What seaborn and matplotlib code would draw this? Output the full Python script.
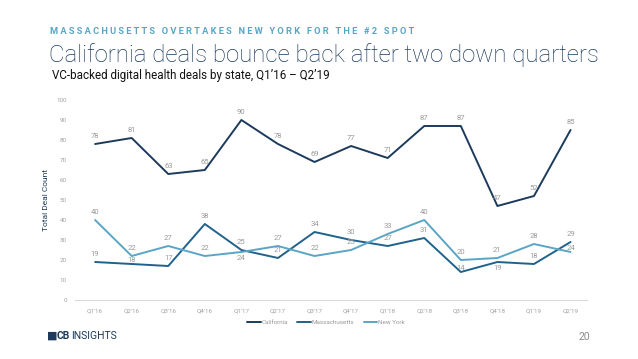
import matplotlib
matplotlib.use("Agg")
import matplotlib.pyplot as plt
import pandas as pd
import seaborn as sns

quarters = ["Q1'16", "Q2'16", "Q3'16", "Q4'16", "Q1'17", "Q2'17", "Q3'17",
            "Q4'17", "Q1'18", "Q2'18", "Q3'18", "Q4'18", "Q1'19", "Q2'19"]
california = [78, 81, 63, 65, 90, 78, 69, 77, 71, 87, 87, 47, 52, 85]
massachusetts = [19, 18, 17, 38, 25, 21, 34, 30, 27, 31, 14, 19, 18, 29]
new_york = [40, 22, 27, 22, 24, 27, 22, 25, 33, 40, 20, 21, 28, 24]

states = {"California": california, "Massachusetts": massachusetts, "New York": new_york}
palette = {"California": "#1b3a5c", "Massachusetts": "#1f628c", "New York": "#5aa5c6"}
# label offsets (points) that differ from the default "just above"
label_dy = {("Massachusetts", 1): 3, ("Massachusetts", 10): 3, ("New York", 13): 3,
            ("New York", 4): -4, ("Massachusetts", 11): -4}

rows = []
for name, vals in states.items():
    for i, v in enumerate(vals):
        rows.append({"quarter": quarters[i], "idx": i, "state": name, "deals": v})
df = pd.DataFrame(rows)

sns.set_theme(style="white")
plt.rcParams["font.family"] = ["Roboto", "DejaVu Sans"]

fig = plt.figure(figsize=(6.38, 3.59), dpi=100)
ax = fig.add_axes([75 / 638, 1 - 300 / 359, 512 / 638, 200 / 359])

sns.lineplot(data=df, x="idx", y="deals", hue="state", palette=palette,
             linewidth=1.4, ax=ax, legend=True)

for name, vals in states.items():
    for i, v in enumerate(vals):
        dy = label_dy.get((name, i), 6)
        ax.annotate(str(v), (i, v), xytext=(0, dy), textcoords="offset points",
                    ha="center", va="center", fontsize=5.5, color="#9a9a9a")

ax.set_xlim(-0.55, 13.45)
ax.set_ylim(0, 100)
ax.set_yticks(range(0, 101, 10))
ax.set_xticks(range(len(quarters)))
ax.set_xticklabels(quarters)
ax.tick_params(axis="both", labelsize=4.5, colors="#a0a0a0", length=0, pad=6)
ax.set_xlabel("")
ax.set_ylabel("Total Deal Count", fontsize=6, color="#1b3a5c", labelpad=5)
for s in ["top", "right", "left"]:
    ax.spines[s].set_visible(False)
ax.spines["bottom"].set_color("#d9d9d9")
ax.spines["bottom"].set_linewidth(0.8)

leg = ax.legend(loc="upper center", bbox_to_anchor=(0.49, -0.07), ncol=3,
                frameon=False, fontsize=4.5, handlelength=2.2, columnspacing=1.5,
                handletextpad=0.1)
for t in leg.get_texts():
    t.set_color("#9a9a9a")

fig.text(50 / 638, 1 - 31 / 359, "M A S S A C H U S E T T S   O V E R T A K E S   N E W   Y O R K   F O R   T H E   # 2   S P O T",
         fontsize=6.7, color="#5aa5c6", fontweight="bold", va="center")
fig.text(49 / 638, 1 - 55 / 359, "California deals bounce back after two down quarters",
         fontsize=17.3, color="#1b3a5c", fontweight="light", va="center")
fig.text(52 / 638, 1 - 75 / 359, "VC-backed digital health deals by state, Q1\u201916 \u2013 Q2\u201919",
         fontsize=8.4, color="#111111", va="center")

fig.text(47 / 638, 1 - 336 / 359, "\u25A0", fontsize=8, color="#1b3a5c", va="center")
fig.text(57 / 638, 1 - 336 / 359, "CB", fontsize=7.5, color="#1b3a5c", fontweight="bold", va="center")
fig.text(71 / 638, 1 - 336 / 359, "INSIGHTS", fontsize=7.5, color="#1b3a5c", va="center")
fig.text(590 / 638, 1 - 337 / 359, "20", fontsize=7.5, color="#8a8a8a", va="center", ha="right")

fig.savefig("out.png", dpi=100)
